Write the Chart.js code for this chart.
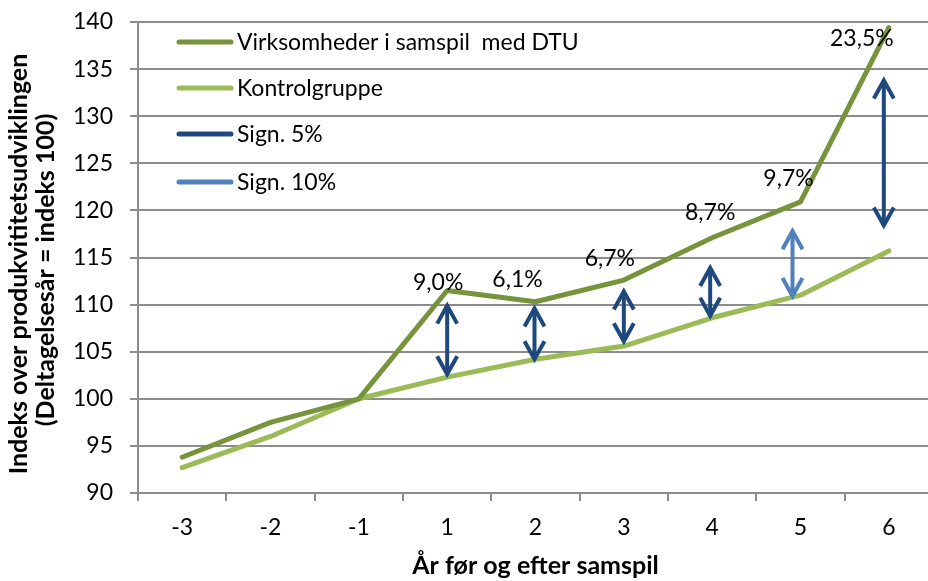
<!DOCTYPE html>
<html>
<head>
<meta charset="utf-8">
<script src="https://cdn.jsdelivr.net/npm/chart.js@4/dist/chart.umd.min.js"></script>
<style>
html,body{margin:0;padding:0;background:#fff;overflow:hidden;}
canvas{display:block;}
</style>
</head>
<body>
<canvas id="c" width="940" height="581"></canvas>
<script>
// ---- data ----
const categories = ['-3','-2','-1','1','2','3','4','5','6'];
const virksomheder = [93.8, 97.5, 100, 111.5, 110.3, 112.6, 117.1, 120.9, 139.4];
const kontrolgruppe = [92.7, 96.0, 100, 102.3, 104.2, 105.6, 108.6, 111.0, 115.7];
const diffLabels = [null, null, null, '9,0%', '6,1%', '6,7%', '8,7%', '9,7%', '23,5%'];
const arrowCats = ['1','2','3','4','5','6'];
const arrowTop = [110.0, 109.7, 111.5, 114.0, 117.9, 133.9];
const arrowBottom = [102.5, 104.1, 106.0, 108.7, 110.8, 118.3];
const arrowSign = ['5%','5%','5%','5%','10%','5%'];
const yTicks = [90,95,100,105,110,115,120,125,130,135,140];
const seriesNames = ['Virksomheder i samspil  med DTU','Kontrolgruppe','Sign. 5%','Sign. 10%'];
const yTitle = ['Indeks over produkvititetsudviklingen','(Deltagelsesår = indeks 100)'];
const xTitle = 'År før og efter samspil';

// ---- style ----
const C_DARK = '#77933C', C_LIGHT = '#9BBB59', C_SIG5 = '#1F497D', C_SIG10 = '#4F81BD';
const GRID = '#8c8c8c';
const FONT = 'Lato';
const labelOffsets = [null,null,null,[-9,-8],[-18,-22],[-14,-22],[-2,-25],[-12,-23],[-27,11]];
const arrowDx = [0,-1,0,-2,-8,-5];
const legendRows = [42, 88, 134, 182];

const overlay = {
  id: 'overlay',
  afterDatasetsDraw(chart) {
    const ctx = chart.ctx, xs = chart.scales.x, ys = chart.scales.y, ca = chart.chartArea;
    ctx.save();
    // arrows
    arrowCats.forEach((cat, i) => {
      const x = xs.getPixelForValue(categories.indexOf(cat)) + arrowDx[i];
      const yt = ys.getPixelForValue(arrowTop[i]);
      const yb = ys.getPixelForValue(arrowBottom[i]);
      ctx.strokeStyle = arrowSign[i] === '5%' ? C_SIG5 : C_SIG10;
      ctx.lineWidth = 4;
      ctx.lineCap = 'butt';
      ctx.lineJoin = 'miter';
      ctx.beginPath(); ctx.moveTo(x, yt + 1); ctx.lineTo(x, yb - 1); ctx.stroke();
      ctx.beginPath(); ctx.moveTo(x - 10, yt + 19); ctx.lineTo(x, yt + 1); ctx.lineTo(x + 10, yt + 19); ctx.stroke();
      ctx.beginPath(); ctx.moveTo(x - 10, yb - 19); ctx.lineTo(x, yb - 1); ctx.lineTo(x + 10, yb - 19); ctx.stroke();
    });
    // data labels
    ctx.fillStyle = '#000';
    ctx.font = '23px ' + FONT;
    ctx.textAlign = 'center';
    ctx.textBaseline = 'middle';
    diffLabels.forEach((t, i) => {
      if (!t) return;
      const x = xs.getPixelForValue(i) + labelOffsets[i][0];
      const y = ys.getPixelForValue(virksomheder[i]) + labelOffsets[i][1];
      ctx.fillText(t, x, y);
    });
    // legend
    const legColors = [C_DARK, C_LIGHT, C_SIG5, C_SIG10];
    ctx.textAlign = 'left';
    seriesNames.forEach((n, i) => {
      const y = legendRows[i];
      ctx.strokeStyle = legColors[i];
      ctx.lineWidth = 5;
      ctx.lineCap = 'round';
      ctx.beginPath(); ctx.moveTo(179, y); ctx.lineTo(231, y); ctx.stroke();
      ctx.fillStyle = '#000';
      ctx.fillText(n, 237, y + 1);
    });
    // axis titles
    ctx.font = 'bold 25px ' + FONT;
    ctx.textAlign = 'center';
    ctx.textBaseline = 'middle';
    ctx.fillText(xTitle, (ca.left + ca.right) / 2, 566);
    ctx.save();
    ctx.translate(19, 264);
    ctx.rotate(-Math.PI / 2);
    ctx.fillText(yTitle[0], 0, 0);
    ctx.restore();
    ctx.save();
    ctx.translate(46, 270);
    ctx.rotate(-Math.PI / 2);
    ctx.fillText(yTitle[1], 0, 0);
    ctx.restore();
    ctx.restore();
  }
};

new Chart(document.getElementById('c'), {
  type: 'line',
  data: {
    labels: categories,
    datasets: [
      { label: seriesNames[0], data: virksomheder, borderColor: C_DARK, borderWidth: 5, pointRadius: 0, tension: 0, borderCapStyle: 'round', borderJoinStyle: 'round' },
      { label: seriesNames[1], data: kontrolgruppe, borderColor: C_LIGHT, borderWidth: 5, pointRadius: 0, tension: 0, borderCapStyle: 'round', borderJoinStyle: 'round' }
    ]
  },
  options: {
    responsive: false,
    animation: false,
    layout: { padding: { top: 22, right: 7, left: 0, bottom: 0 } },
    plugins: { legend: { display: false }, title: { display: false }, tooltip: { enabled: false } },
    scales: {
      x: {
        type: 'category',
        offset: true,
        afterFit: s => { s.height = 88; s.paddingLeft = 0; s.paddingRight = 0; },
        grid: { offset: true, drawOnChartArea: false, drawTicks: true, tickLength: 8, color: GRID, lineWidth: 2 },
        border: { display: true, color: GRID, width: 2 },
        ticks: { font: { family: FONT, size: 23 }, color: '#000', padding: 13, maxRotation: 0, autoSkip: false }
      },
      y: {
        min: 90, max: 140,
        afterFit: s => { s.width = 138; s.paddingTop = 0; s.paddingBottom = 0; },
        afterBuildTicks: s => { s.ticks = yTicks.map(v => ({ value: v })); },
        grid: { color: GRID, lineWidth: 2, tickLength: 8 },
        border: { display: true, color: GRID, width: 2 },
        ticks: { font: { family: FONT, size: 23 }, color: '#000', padding: 17 }
      }
    }
  },
  plugins: [overlay]
});
</script>
</body>
</html>
